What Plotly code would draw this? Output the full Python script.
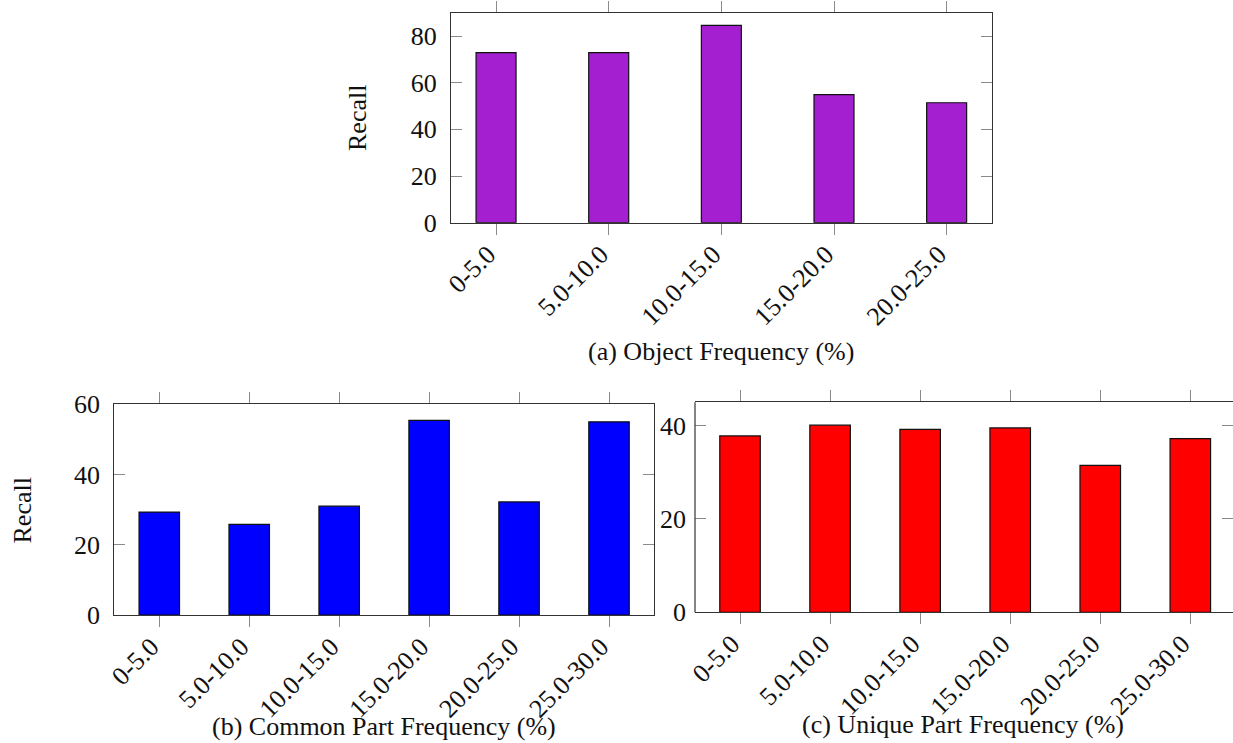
import plotly.graph_objects as go

# ---- data ----
obj_cats = ["0-5.0", "5.0-10.0", "10.0-15.0", "15.0-20.0", "20.0-25.0"]
obj_recall = [72.9, 72.9, 84.6, 54.9, 51.4]

part_cats = ["0-5.0", "5.0-10.0", "10.0-15.0", "15.0-20.0", "20.0-25.0", "25.0-30.0"]
common_recall = [29.3, 25.8, 31.0, 55.4, 32.2, 55.0]
unique_recall = [37.8, 40.1, 39.2, 39.5, 31.5, 37.2]

y_ticks_a = [0, 20, 40, 60, 80]
y_ticks_b = [0, 20, 40, 60]
y_ticks_c = [0, 20, 40]

captions = ["(a) Object Frequency (%)", "(b) Common Part Frequency (%)", "(c) Unique Part Frequency (%)"]
y_title = "Recall"

W, H = 1233, 743
SERIF = "Liberation Serif"
LINE = "#333333"

def px_x(v):
    return v / W

def px_y(v):
    return 1 - v / H

fig = go.Figure()

fig.add_trace(go.Bar(x=obj_cats, y=obj_recall, width=0.355, xaxis="x", yaxis="y",
                     marker=dict(color="#A41FD0", line=dict(color="#111111", width=1.2))))
fig.add_trace(go.Bar(x=part_cats, y=common_recall, width=0.45, xaxis="x2", yaxis="y2",
                     marker=dict(color="#0000FF", line=dict(color="#111111", width=1.2))))
fig.add_trace(go.Bar(x=part_cats, y=unique_recall, width=0.45, xaxis="x3", yaxis="y3",
                     marker=dict(color="#FF0000", line=dict(color="#111111", width=1.2))))

def xax(domain, rng, anchor):
    return dict(domain=domain, range=rng, anchor=anchor, type="category", automargin=False,
                showline=True, linecolor=LINE, linewidth=1.2, mirror="ticks",
                ticks="outside", ticklen=11, tickcolor="#8a8a8a", tickwidth=1.2,
                tickangle=-45, ticklabelstandoff=-6, ticklabelshift=-8,
                tickfont=dict(family=SERIF, size=26, color="#111111"),
                showgrid=False, zeroline=False, fixedrange=True)

def yax(domain, rng, tv, anchor, line=True):
    return dict(domain=domain, range=rng, anchor=anchor, tickvals=tv, automargin=False,
                showline=line, linecolor=LINE, linewidth=1.2, mirror="ticks",
                ticks="inside", ticklen=11, tickcolor="#8a8a8a", tickwidth=1.2,
                ticklabelstandoff=8,
                tickfont=dict(family=SERIF, size=26, color="#111111"),
                showgrid=False, zeroline=False, fixedrange=True)

fig.update_layout(
    width=W, height=H, autosize=False, margin=dict(l=0, r=0, t=0, b=0, pad=0),
    paper_bgcolor="white", plot_bgcolor="white", showlegend=False,
    xaxis=xax([px_x(451), px_x(991.7)], [-0.4, 4.4], "y"),
    yaxis=yax([px_y(222.7), px_y(12.7)], [0, 90], y_ticks_a, "x"),
    xaxis2=xax([px_x(114.3), px_x(654)], [-0.5, 5.5], "y2"),
    yaxis2=yax([px_y(615), px_y(404.3)], [0, 60], y_ticks_b, "x2"),
    xaxis3=xax([px_x(695), 1.0], [-0.5, 5.474], "y3"),
    yaxis3=yax([px_y(612.3), px_y(402.3)], [0, 45], y_ticks_c, "x3", line=False),
)

# left frame edge of panel (c); its right edge lies just beyond the page
fig.add_shape(type="line", xref="x3 domain", yref="y3 domain", x0=0, x1=0, y0=0, y1=1,
              line=dict(color=LINE, width=1.2), layer="above")

ann_font = dict(family=SERIF, size=26, color="#111111")
anns = [
    dict(text=y_title, x=px_x(357), y=px_y(118), textangle=-90),
    dict(text=y_title, x=px_x(22.5), y=px_y(510), textangle=-90),
    dict(text=captions[0], x=px_x(721), y=px_y(351)),
    dict(text=captions[1], x=px_x(384), y=px_y(726)),
    dict(text=captions[2], x=px_x(963.5), y=px_y(724)),
]
for a in anns:
    fig.add_annotation(xref="paper", yref="paper", showarrow=False,
                       xanchor="center", yanchor="middle", font=ann_font, **a)

fig.write_html("out.html", config={"displayModeBar": False},
               post_script="document.body.style.margin='0';document.body.style.overflow='hidden';")
